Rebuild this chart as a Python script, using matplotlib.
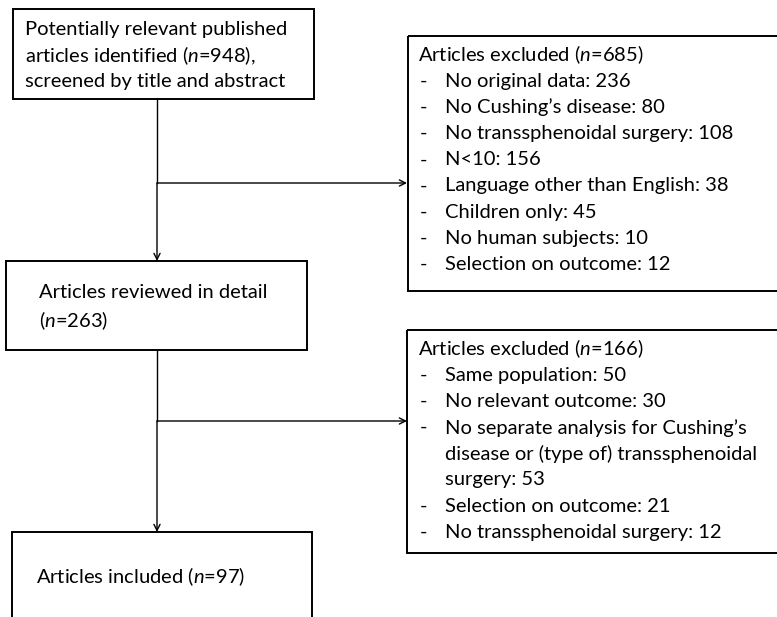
import matplotlib.pyplot as plt
from matplotlib.patches import Rectangle

plt.rcParams['font.family'] = ['Lato', 'DejaVu Sans']
plt.rcParams['mathtext.fontset'] = 'custom'
plt.rcParams['mathtext.rm'] = 'Lato'
plt.rcParams['mathtext.it'] = 'Lato:italic'

# flowchart contents
n_identified = 948
n_reviewed = 263
n_included = 97
n_excl_1 = 685
n_excl_2 = 166

reasons_1 = ["No original data: 236", "No Cushing\u2019s disease: 80",
             "No transsphenoidal surgery: 108", "N<10: 156",
             "Language other than English: 38", "Children only: 45",
             "No human subjects: 10", "Selection on outcome: 12"]
reasons_2 = ["Same population: 50", "No relevant outcome: 30",
             "No separate analysis for Cushing\u2019s\ndisease or (type of) transsphenoidal\nsurgery: 53",
             "Selection on outcome: 21", "No transsphenoidal surgery: 12"]

N = r"$\mathit{n}$"

fig = plt.figure(figsize=(7.77, 6.17), dpi=100)
ax = fig.add_axes([0, 0, 1, 1])
ax.set_xlim(0, 777)
ax.set_ylim(617, 0)
ax.axis('off')


def box(x0, y0, x1, y1):
    ax.add_patch(Rectangle((x0, y0), x1 - x0, y1 - y0, fill=False,
                           edgecolor='black', lw=1.4))


def arrow(x0, y0, x1, y1):
    ax.annotate("", xy=(x1, y1), xytext=(x0, y0),
                arrowprops=dict(arrowstyle='->', lw=1.0, color='black',
                                shrinkA=0, shrinkB=0, mutation_scale=11))


fs = 14.5
step = 26.2

# main column
box(13, 9, 314, 99)
ax.text(25, 30, "Potentially relevant published", fontsize=fs, va='center')
ax.text(25, 56, f"articles identified ({N}={n_identified}),", fontsize=fs, va='center')
ax.text(25, 82, "screened by title and abstract", fontsize=fs, va='center')

box(6, 261, 307, 350)
ax.text(39, 293, "Articles reviewed in detail", fontsize=fs, va='center')
ax.text(39, 321, f"({N}={n_reviewed})", fontsize=fs, va='center')

ax.plot([12, 12, 312, 312], [630, 532, 532, 630], color='black', lw=1.4,
        solid_joinstyle='miter')
ax.text(36, 577, f"Articles included ({N}={n_included})", fontsize=fs, va='center')

# vertical flow
ax.plot([157, 157], [99, 183], color='black', lw=1.0)
arrow(157, 183, 157, 261)
arrow(157, 183, 407, 183)
ax.plot([157, 157], [350, 421], color='black', lw=1.0)
arrow(157, 421, 157, 532)
arrow(157, 421, 407, 421)

# exclusion boxes (cut off at the right edge)
box(408, 36, 800, 291)
ax.text(418, 55, f"Articles excluded ({N}={n_excl_1})", fontsize=fs, va='center')
for i, r in enumerate(reasons_1):
    y = 55 + (i + 1) * step
    ax.text(420, y, "-", fontsize=fs, va='center')
    ax.text(445, y, r, fontsize=fs, va='center')

box(407, 330, 800, 553)
ax.text(418, 349, f"Articles excluded ({N}={n_excl_2})", fontsize=fs, va='center')
y = 349 + step
for r in reasons_2:
    ax.text(420, y, "-", fontsize=fs, va='center')
    for ln in r.split("\n"):
        ax.text(445, y, ln, fontsize=fs, va='center')
        y += step

fig.savefig("out.png", dpi=100)
